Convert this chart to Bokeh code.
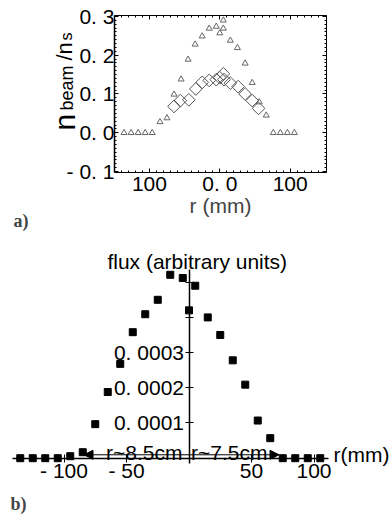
import numpy as np
from bokeh.plotting import figure
from bokeh.models import (Range1d, LinearAxis, FixedTicker, Label, Arrow, NormalHead,
                          CustomJSTickFormatter)
from bokeh.embed import file_html
from bokeh.resources import INLINE

# ---------------- panel a) data ----------------
tri_r = [-136, -126, -116, -106, -96, -85, -75, -65, -55, -45, -35, -25, -15, -5, 0, 5, 5,
         15, 25, 36, 46, 56, 66, 76, 86, 96, 106]
tri_n = [0, 0, 0, 0, 0, 0.028, 0.038, 0.099, 0.138, 0.189, 0.228, 0.249, 0.269, 0.274, 0.257,
         0.290, 0.269, 0.238, 0.219, 0.179, 0.129, 0.079, 0.045, 0, 0, 0, 0]
dia_r = [-65, -56, -44, -34, -25, -15, -5, 0, 5, 6, 15, 26, 36, 46, 55]
dia_n = [0.068, 0.083, 0.085, 0.113, 0.130, 0.135, 0.137, 0.142, 0.152, 0.137, 0.128, 0.119,
         0.100, 0.083, 0.063]
a_xticks = [-100, 0, 100]
a_xtick_labels = ["100", "0. 0", "100"]
a_yticks = [-0.1, 0.0, 0.1, 0.2, 0.3]
a_ytick_labels = ["- 0. 1", "0. 0", "0. 1", "0. 2", "0. 3"]
a_xlim = (-149.6, 151.6)
a_ylim = (-0.1021, 0.3026)

# ---------------- panel b) data ----------------
flux_r = [-135, -125, -115, -105, -95, -85, -75, -65, -55, -45, -35, -25, -15, -5, 0, 5,
          15, 25, 35, 45, 55, 65, 75, 85, 95, 105]
flux_v = [0, 0, 0, 0, 0.0000057, 0.000017, 0.0000967, 0.000188, 0.000268, 0.000358, 0.000409,
          0.000450, 0.000521, 0.000512, 0.000420, 0.000490, 0.000400, 0.000350, 0.000278,
          0.000209, 0.000107, 0.0000569, 0, 0, 0, 0]
b_xticks = [-100, -50, 50, 100]
b_xtick_labels = ["- 100", "- 50", "50", "100"]
b_yticks = [0.0001, 0.0002, 0.0003]
b_ytick_labels = ["0. 0001", "0. 0002", "0. 0003"]
b_yticks_unlabelled = [0.0004, 0.0005]
b_xlim = (-141.2, 111.6)
b_ylim = (-1.506e-5, 5.361e-4)

FONT = "Liberation Sans"
FS = "21px"

def fmt(tick_vals, tick_labels):
    return CustomJSTickFormatter(args=dict(tv=tick_vals, tl=tick_labels), code="""
        for (let i = 0; i < tv.length; i++) {
            if (Math.abs(tv[i] - tick) < 1e-9) return tl[i];
        }
        return "";
    """)

# one canvas: panel b on the default ranges, panel a on extra ranges
p = figure(width=391, height=516,
           x_range=Range1d(-150.8, 162.0), y_range=Range1d(-1.65625e-4, 1.30028e-3),
           x_axis_location=None, y_axis_location=None,
           output_backend="svg", toolbar_location=None,
           min_border_left=0, min_border_right=0, min_border_top=0, min_border_bottom=0)
p.extra_x_ranges = {"xa": Range1d(-311.5, 243.9)}
p.extra_y_ranges = {"ya": Range1d(-0.988918, 0.340979)}
p.grid.visible = False
p.outline_line_color = None

A = dict(x_range_name="xa", y_range_name="ya")

# ---- panel a axes (closed box with inward ticks) ----
x_minor = [v for v in range(-140, 150, 10) if v not in a_xticks]
y_minor = [round(-0.1 + 0.01 * i, 3) for i in range(41)]
y_minor = [v for v in y_minor if all(abs(v - t) > 1e-9 for t in a_yticks)]

ax_b = LinearAxis(ticker=FixedTicker(ticks=a_xticks, minor_ticks=x_minor),
                  formatter=fmt(a_xticks, a_xtick_labels), fixed_location=a_ylim[0],
                  bounds=a_xlim, **A)
ax_l = LinearAxis(ticker=FixedTicker(ticks=a_yticks, minor_ticks=y_minor),
                  formatter=fmt(a_yticks, a_ytick_labels), fixed_location=a_xlim[0],
                  bounds=a_ylim, **A)
p.add_layout(ax_b, "below")
p.add_layout(ax_l, "left")
box_axes = []
for side, minors, majors, loc in [("above", x_minor, a_xticks, a_ylim[1]),
                                  ("right", y_minor, a_yticks, a_xlim[1])]:
    lim = a_xlim if side == "above" else a_ylim
    ax_small = LinearAxis(ticker=FixedTicker(ticks=[], minor_ticks=minors), fixed_location=loc,
                          bounds=lim, minor_tick_in=2, minor_tick_out=0, **A)
    ax_big = LinearAxis(ticker=FixedTicker(ticks=[], minor_ticks=majors), fixed_location=loc,
                        bounds=lim, minor_tick_in=4, minor_tick_out=0, **A)
    p.add_layout(ax_small, side)
    p.add_layout(ax_big, side)
    box_axes += [ax_small, ax_big]
for ax in box_axes:
    ax.axis_line_color = "black"
    ax.minor_tick_line_color = "black"
    ax.major_tick_line_color = None

for ax in [ax_b, ax_l]:
    ax.major_tick_in = 4
    ax.major_tick_out = 0
    ax.minor_tick_in = 2
    ax.minor_tick_out = 0
    ax.axis_line_color = "black"
    ax.major_tick_line_color = "black"
    ax.minor_tick_line_color = "black"
    ax.major_label_text_font = FONT
    ax.major_label_text_font_size = FS
    ax.major_label_text_color = "black"
ax_b.major_label_standoff = 0
ax_l.major_label_standoff = 0
ax_l.axis_line_width = 1.5
ax_b.axis_label = "r (mm)"
ax_b.axis_label_text_font = FONT
ax_b.axis_label_text_font_size = FS
ax_b.axis_label_text_font_style = "normal"
ax_b.axis_label_standoff = -5

p.scatter(tri_r, tri_n, marker="triangle", size=6, fill_color=None, line_color="#666666",
          line_width=1, **A)
p.scatter(dia_r, dia_n, marker="square", angle=np.pi / 4, size=9, fill_color=None,
          line_color="#555555", line_width=1, **A)

# rotated y label n_beam / n_s
for (x, y, t, fs) in [(-221.2, 0.0059, "n", "30px"), (-217.7, 0.0575, "beam", "18px"),
                      (-221.2, 0.1863, "/n", "22px"), (-217.7, 0.2379, "s", "16px")]:
    p.add_layout(Label(x=x, y=y, text=t, angle=np.pi / 2, text_font=FONT, text_font_size=fs,
                       text_align="left", text_baseline="alphabetic", text_color="black", **A))

p.add_layout(Label(x=-293.0, y=-0.2286, text="a)", text_font="Liberation Serif",
                   text_font_style="bold", text_font_size="18px", text_align="left",
                   text_baseline="alphabetic", **A))

# ---- panel b axes (crossing at 0) ----
bx = LinearAxis(ticker=FixedTicker(ticks=b_xticks), formatter=fmt(b_xticks, b_xtick_labels),
                fixed_location=0, bounds=b_xlim)
by = LinearAxis(ticker=FixedTicker(ticks=b_yticks, minor_ticks=b_yticks_unlabelled),
                formatter=fmt(b_yticks, b_ytick_labels), fixed_location=0, bounds=b_ylim)
p.add_layout(bx, "below")
p.add_layout(by, "left")
for ax in [bx, by]:
    ax.major_tick_in = 4
    ax.major_tick_out = 4
    ax.minor_tick_in = 4
    ax.minor_tick_out = 4
    ax.minor_tick_line_color = "black"
    ax.axis_line_color = "black"
    ax.axis_line_width = 1.5
    ax.major_tick_line_color = "black"
    ax.major_label_text_font = FONT
    ax.major_label_text_font_size = FS
    ax.major_label_text_color = "black"
bx.major_label_standoff = -3
by.major_label_standoff = 1

p.scatter(flux_r, flux_v, marker="square", size=7, color="black")

p.add_layout(Arrow(x_start=-84, y_start=9.7e-6, x_end=72, y_end=9.7e-6, line_width=1,
                   start=NormalHead(size=9, fill_color="black", line_color="black"),
                   end=NormalHead(size=9, fill_color="black", line_color="black")))

lab_kw = dict(text_font=FONT, text_font_size=FS, text_color="black")
p.add_layout(Label(x=-35.8, y=1.62e-5, text="r~8.5cm", text_align="center",
                   text_baseline="alphabetic", **lab_kw))
p.add_layout(Label(x=32.2, y=1.62e-5, text="r~7.5cm", text_align="center",
                   text_baseline="alphabetic", **lab_kw))
p.add_layout(Label(x=115.6, y=1.05e-5, text="r(mm)", text_align="left",
                   text_baseline="middle", **lab_kw))
p.add_layout(Label(x=6.6, y=5.6e-4, text="flux (arbitrary units)", text_align="center",
                   text_baseline="alphabetic", **lab_kw))
p.add_layout(Label(x=-142.8, y=-1.315e-4, text="b)", text_font="Liberation Serif",
                   text_font_style="bold", text_font_size="18px", text_align="left",
                   text_baseline="alphabetic"))

open("out.html", "w").write(file_html(p, INLINE))
